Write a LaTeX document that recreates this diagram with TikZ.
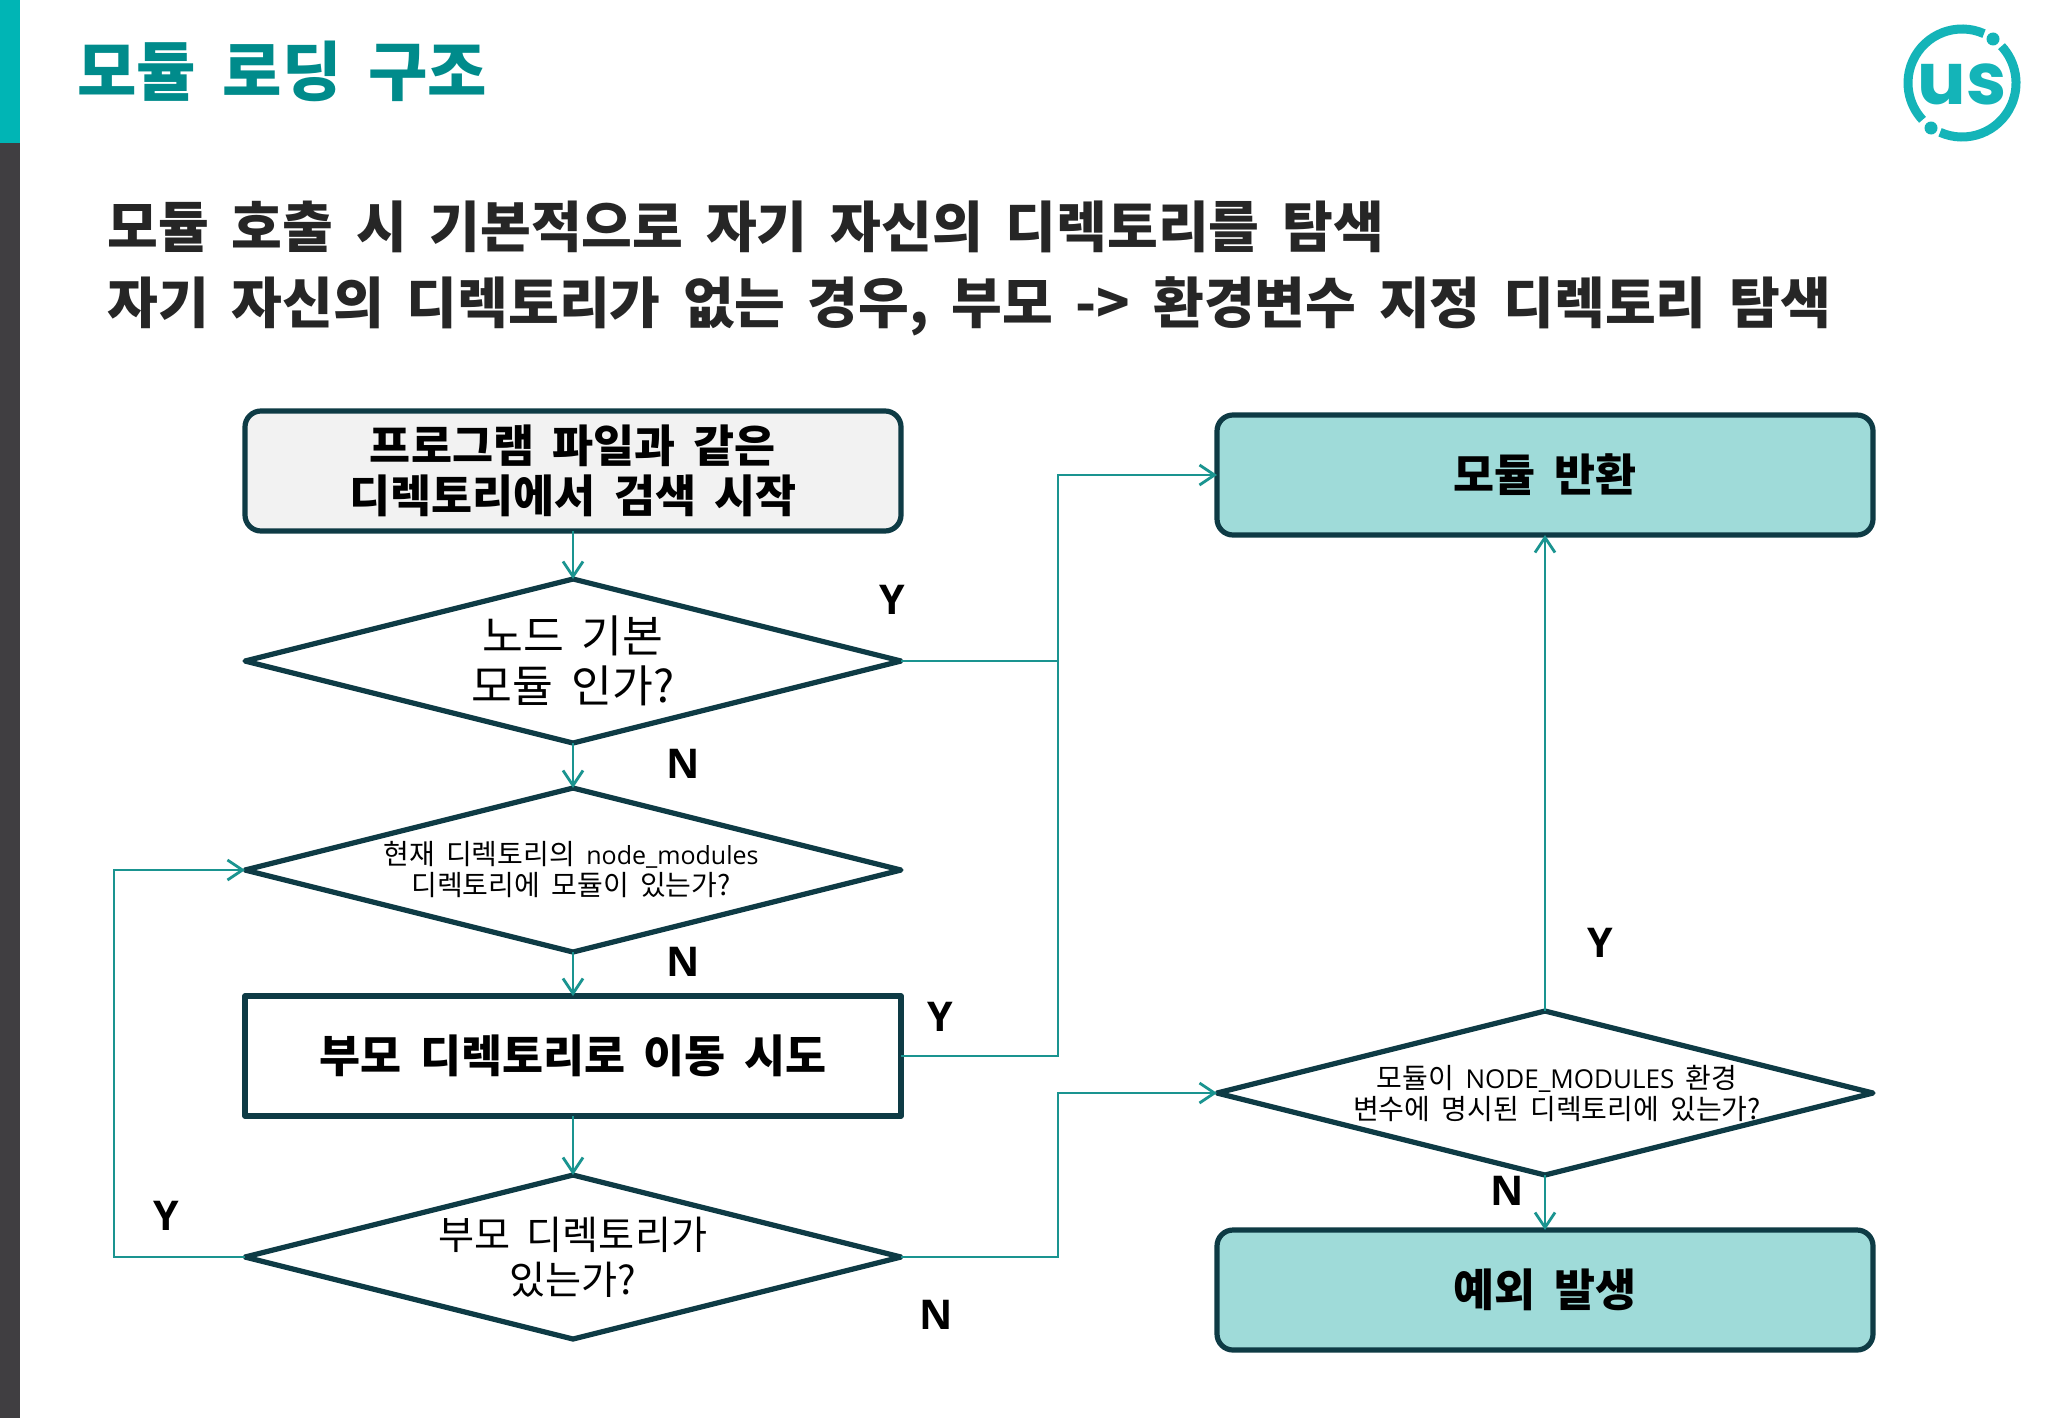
\documentclass[tikz,border=0pt]{standalone}
\usepackage{fontspec}
\usetikzlibrary{shapes.geometric,arrows.meta}
\setmainfont{Noto Sans CJK KR}[WordSpace=1.8]
\newfontfamily\logofont{Poppins}
\newfontfamily\latinfont{Open Sans}
\definecolor{barteal}{HTML}{00B5B5}
\definecolor{bardark}{HTML}{403E41}
\definecolor{titleteal}{HTML}{008B8B}
\definecolor{edgecol}{HTML}{0E3B45}
\definecolor{conncol}{HTML}{1A9490}
\definecolor{fillteal}{HTML}{9FDBD9}
\definecolor{fillgrey}{HTML}{F2F2F2}
\definecolor{logocol}{HTML}{14B4B8}
\definecolor{inkcol}{HTML}{262626}
\newcommand{\fs}[2]{\fontsize{#1}{#2}\selectfont}
\tikzset{
  x=0.5pt,y=-0.5pt,
  shapebase/.style={draw=edgecol,line width=2.6pt,line join=round,inner sep=0pt,outer sep=0pt,text=black,align=center,minimum width=328pt,minimum height=60pt},
  roundbox/.style={shapebase,rectangle,rounded corners=8pt,font=\fs{22.3}{25}\bfseries},
  plainbox/.style={shapebase,rectangle,font=\fs{22.3}{25}\bfseries},
  decide/.style={shapebase,diamond,aspect=4,minimum height=82pt},
  conn/.style={draw=conncol,line width=1.4pt,-{Straight Barb[length=7.5pt,width=10pt,line width=1.4pt]}},
  yn/.style={font=\latinfont\fs{20.5}{25}\bfseries,text=black,inner sep=0pt},
  headline/.style={anchor=west,inner sep=0pt,text=inkcol,font=\fs{27.6}{32}\bfseries},
  smalltext/.style={inner sep=0pt,align=center,text=black,font=\fs{14}{15.5}},
}
\begin{document}
\begin{tikzpicture}
\useasboundingbox (0,0) rectangle (2048,1418);
\fill[white] (0,0) rectangle (2048,1418);
\fill[barteal] (0,0) rectangle (20,143);
\fill[bardark] (0,143) rectangle (20,1418);
\node[anchor=west,inner sep=0pt,text=titleteal,font=\fs{32.3}{36}\bfseries] (title) at (77,71) {모듈 로딩 구조};
\node[headline] (h1) at (107,227) {모듈 호출 시 기본적으로 자기 자신의 디렉토리를 탐색};
\node[headline] (h2) at (107,306) {자기 자신의 디렉토리가 없는 경우, 부모 -> 환경변수 지정 디렉토리 탐색};
% logo (the y axis points down, so these angles run clockwise on the page)
\draw[logocol,line width=4.5pt] (1962,83) ++(-66:54) arc[start angle=-66,end angle=-223,radius=54];
\draw[logocol,line width=4.5pt] (1962,83) ++(-246:54) arc[start angle=-246,end angle=-403,radius=54];
\fill[logocol] (1993,39) circle[radius=6.5];
\fill[logocol] (1931,128) circle[radius=6.5];
\node[text=logocol,font=\logofont\fs{36}{40}\bfseries,inner sep=0pt] (logo) at (1962,84) {us};
% nodes
\node[roundbox,fill=fillgrey,minimum height=60pt] (start) at (573,471) {프로그램 파일과 같은\\디렉토리에서 검색 시작};
\node[decide,fill=white,font=\fs{22.2}{25}] (d1) at (573,661) {노드 기본\\모듈 인가?};
\node[decide,fill=white] (d2) at (573,870) {};
\node[smalltext] (d2t) at (571,870) {현재 디렉토리의 {\latinfont\fs{12.5}{15.5}node\_modules}\\디렉토리에 모듈이 있는가?};
\node[plainbox,fill=white] (move) at (573,1056) {부모 디렉토리로 이동 시도};
\node[decide,fill=white,font=\fs{19.6}{22.5}] (d3) at (573,1257) {부모 디렉토리가\\있는가?};
\node[roundbox,fill=fillteal] (ret) at (1545,475) {모듈 반환};
\node[decide,fill=white] (d4) at (1545,1093) {};
\node[smalltext] (d4t) at (1557,1093) {모듈이 {\latinfont\fs{13}{15.5}NODE\_MODULES} 환경\\변수에 명시된 디렉토리에 있는가?};
\node[roundbox,fill=fillteal] (exc) at (1545,1290) {예외 발생};
\coordinate (busr) at (1058,0);
\coordinate (busl) at (114,0);
% connectors
\draw[conn] (start) -- (d1);
\draw[conn] (d1) -- (d2);
\draw[conn] (d2) -- (move);
\draw[conn] (move) -- (d3);
\draw[conn] (d1.east) -- (d1.east -| busr) -- (busr |- ret.west) -- (ret.west);
\draw[draw=conncol,line width=1.4pt] (move.east) -- (move.east -| busr) -- (busr |- d1.east);
\draw[conn] (d3.west) -- (d3.west -| busl) -- (busl |- d2.west) -- (d2.west);
\draw[conn] (d3.east) -- (d3.east -| busr) -- (busr |- d4.west) -- (d4.west);
\draw[conn] (d4) -- (ret);
\draw[conn] (d4) -- (exc);
% labels
\node[yn] (y1) at (892,600) {Y};
\node[yn] (n1) at (683,764) {N};
\node[yn] (n2) at (683,962) {N};
\node[yn] (y2) at (940,1017) {Y};
\node[yn] (y3) at (166,1216) {Y};
\node[yn] (n3) at (936,1315) {N};
\node[yn] (y4) at (1600,943) {Y};
\node[yn] (n4) at (1507,1191) {N};
\end{tikzpicture}
\end{document}
